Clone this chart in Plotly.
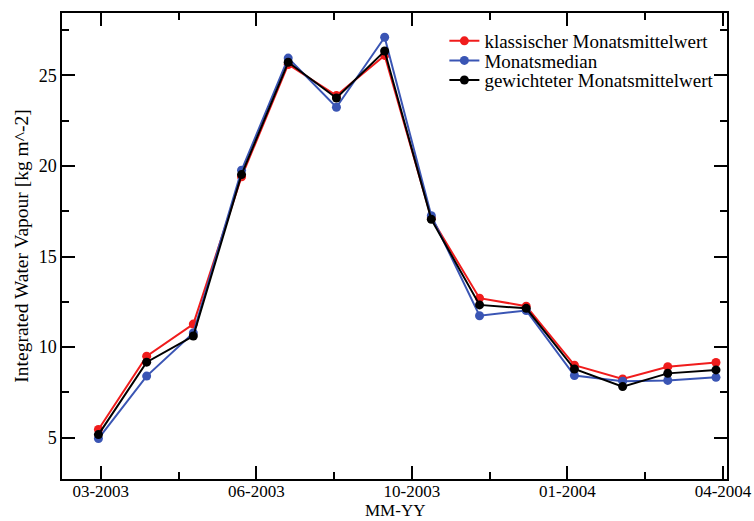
import pandas as pd
import plotly.graph_objects as go

# Monthly integrated water vapour, March 2003 - April 2004
months = ["2003-03", "2003-04", "2003-05", "2003-06", "2003-07", "2003-08", "2003-09",
          "2003-10", "2003-11", "2003-12", "2004-01", "2004-02", "2004-03", "2004-04"]
klassisch = [5.45, 9.50, 11.27, 19.40, 25.60, 23.88, 26.10, 17.12, 12.70, 12.26, 9.00, 8.24, 8.92, 9.15]
median = [4.95, 8.40, 10.78, 19.76, 25.95, 23.24, 27.10, 17.25, 11.73, 12.02, 8.43, 8.12, 8.16, 8.33]
gewichtet = [5.17, 9.17, 10.61, 19.52, 25.72, 23.75, 26.34, 17.05, 12.33, 12.14, 8.79, 7.82, 8.55, 8.74]

tick_labels = ["03-2003", "06-2003", "10-2003", "01-2004", "04-2004"]

series = [
    ("klassischer Monatsmittelwert", klassisch, "#f01c1c"),
    ("Monatsmedian", median, "#3a55b4"),
    ("gewichteter Monatsmittelwert", gewichtet, "#000000"),
]

# samples sit in the middle of each month
dates = pd.to_datetime([m + "-15" for m in months])

# x ticks every 100 days
t0 = pd.Timestamp("2003-03-16 12:00")
tick_vals = [t0 + pd.Timedelta(days=100 * k) for k in range(len(tick_labels))]
minor_vals = [t0 + pd.Timedelta(days=100 * k + 50) for k in range(len(tick_labels) - 1)]

FONT = "Liberation Serif"
LEGEND_FONT = dict(family=FONT, size=19, color="black")

fig = go.Figure()
legend_ids = ["legend", "legend2", "legend3"]
for (name, vals, color), lid in zip(series, legend_ids):
    fig.add_trace(go.Scatter(
        x=dates, y=vals, name=name, mode="lines+markers",
        line=dict(color=color, width=2),
        marker=dict(color=color, size=9),
        legend=lid,
    ))

axis_common = dict(
    showline=True, linecolor="black", linewidth=1.5, mirror="ticks",
    ticks="inside", ticklen=13, tickwidth=1.5, tickcolor="black",
    showgrid=False, zeroline=False, automargin=False,
    tickfont=dict(family=FONT, size=18, color="black"),
)

fig.update_xaxes(
    **axis_common,
    type="date",
    range=[pd.Timestamp("2003-02-19 14:00"), pd.Timestamp("2004-04-22 02:00")],
    tickmode="array", tickvals=tick_vals, ticktext=tick_labels,
    minor=dict(tickmode="array", tickvals=minor_vals, ticks="inside", ticklen=7,
               tickwidth=1.5, tickcolor="black", showgrid=False),
)
fig.update_xaxes(tickfont=dict(family=FONT, size=17, color="black"), ticklabelstandoff=-4)
fig.update_yaxes(
    **axis_common,
    range=[2.72, 28.44],
    tickmode="array", tickvals=[5, 10, 15, 20, 25],
    minor=dict(tickmode="array", tickvals=[2.5 * k for k in range(2, 12) if k % 2], ticks="inside",
               ticklen=7, tickwidth=1.5, tickcolor="black", showgrid=False),
    title=dict(text="Integrated Water Vapour [kg m^-2]",
               font=dict(family=FONT, size=19.5, color="black"), standoff=5),
)

# x axis title placed under the tick labels
fig.add_annotation(
    text="MM-YY", xref="paper", yref="paper", x=0.5, y=0, yshift=-42,
    xanchor="center", yanchor="bottom", showarrow=False, borderpad=0,
    font=dict(family=FONT, size=17, color="black"),
)

# one legend box per series, stacked tightly in the upper right corner
legend_y = [0.940, 0.898, 0.856]
legend_layout = {
    lid: dict(x=0.575, y=ly, xanchor="left", yanchor="middle",
              bgcolor="rgba(0,0,0,0)", borderwidth=0, font=LEGEND_FONT, itemwidth=30)
    for lid, ly in zip(legend_ids, legend_y)
}

fig.update_layout(
    width=754, height=521,
    margin=dict(l=62, r=27, t=13, b=42),
    paper_bgcolor="white", plot_bgcolor="white",
    showlegend=True,
    **legend_layout,
)

fig.write_html("out.html")
